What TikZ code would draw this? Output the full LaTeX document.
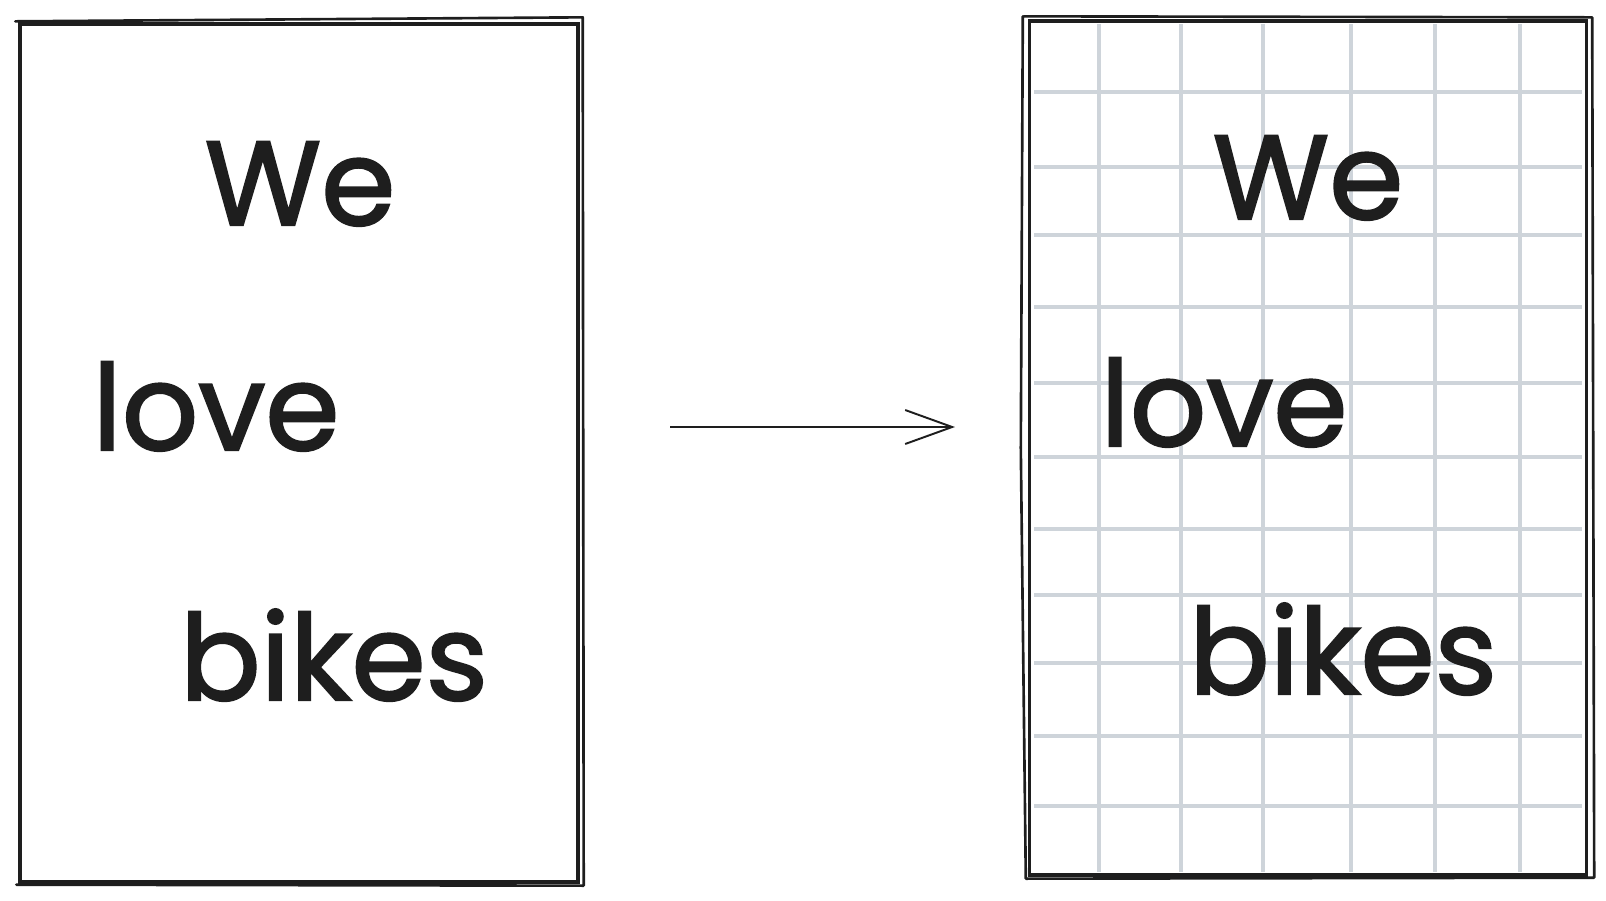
\documentclass[tikz,border=0pt]{standalone}
\usepackage{fontspec}
\usetikzlibrary{arrows.meta}
\newfontfamily\handfont{Poppins}[UprightFeatures={FakeBold=1.8}]
\definecolor{ink}{HTML}{1E1E1E}
\definecolor{gridgray}{HTML}{CED4DA}

\begin{document}
\begin{tikzpicture}[x=0.02cm,y=-0.02cm,
  sheet/.style={draw=ink,line width=2pt,minimum width=11.16cm,minimum height=17.16cm,inner sep=0pt},
  sketch/.style={draw=ink,line width=1.5pt,line cap=round,line join=round},
  word/.style={font=\handfont\fontsize{68}{80}\selectfont,text=ink,anchor=base,inner sep=0pt},
  gridline/.style={draw=gridgray,line width=1.8pt}]
\useasboundingbox (0,0) rectangle (1606,900);
% squared paper
\foreach \gx in {1099,1181,1263,1351,1435,1520}
  \draw[gridline] (\gx,24) -- (\gx,872);
\foreach \gy in {92,167,235,307,383,457,529,595,663,736,806}
  \draw[gridline] (1034,\gy) -- (1582,\gy);
% the two sheets
\node[sheet] (before) at (299,453) {};
\node[sheet,minimum width=11.14cm,minimum height=17.08cm] (after) at (1308,448) {};
% second pen strokes
\draw[sketch] ([shift={(-3,-1)}]before.north west) -- ([shift={(3,-5)}]before.north east)
  -- ([shift={(4,2)}]before.south east) -- ([shift={(-2,1)}]before.south west);
\draw[sketch] ([shift={(-4,-3)}]after.north west) -- ([shift={(4,-2)}]after.north east)
  -- ([shift={(6,1)}]after.south east) -- ([shift={(-2,2)}]after.south west)
  -- ([shift={(-7,0)}]after.west) -- ([shift={(-5,-3)}]after.north west);
% words
\node[word] (weL) at (300,225) {We};
\node[word] (loveL) at (216,450) {love};
\node[word] (bikesL) at (334,700) {bikes};
\node[word] (weR) at (1308,219) {We};
\node[word] (loveR) at (1224,446) {love};
\node[word] (bikesR) at (1343,694) {bikes};
% arrow
\coordinate (tail) at (670,427);
\coordinate (head) at (955,427);
\draw[ink,line width=1.1pt,-{Straight Barb[length=9.4mm,width=6.8mm]}] (tail) -- (head);
\end{tikzpicture}
\end{document}
